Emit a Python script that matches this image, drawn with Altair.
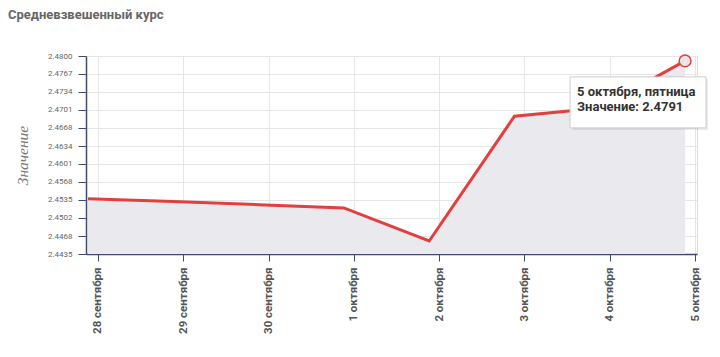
import json
import altair as alt
import pandas as pd

# ---- data ----
dates = ["28 сентября", "29 сентября", "30 сентября", "1 октября",
         "2 октября", "3 октября", "4 октября", "5 октября"]
values = [2.4537, 2.4532, 2.4526, 2.4520, 2.4459, 2.4689, 2.4704, 2.4791]
y_ticks = [2.4435, 2.4468, 2.4502, 2.4535, 2.4568, 2.4601, 2.4634,
           2.4668, 2.4701, 2.4734, 2.4767, 2.4800]
chart_title = "Средневзвешенный курс"
y_title = "Значение"
tooltip_day = "5 октября, пятница"

df = pd.DataFrame({"i": list(range(len(dates))), "date": dates, "value": values})
last = df.tail(1).copy()
last["line1"] = tooltip_day
last["line2"] = f"{y_title}: {values[-1]:.4f}"

label_expr = json.dumps(dates, ensure_ascii=False) + "[datum.value]"

AXIS_COL = "#3f4a6d"
RED = "#e0403e"

x_enc = alt.X(
    "i:Q",
    scale=alt.Scale(domain=[-0.0234, 7.14], nice=False, zero=False),
    axis=alt.Axis(
        values=list(range(len(dates))),
        tickCount=30,
        labelExpr=label_expr,
        labelAngle=-90,
        labelFont="Roboto",
        labelFontWeight="bold",
        labelFontSize=11.5,
        labelColor="#555555",
        labelPadding=6,
        labelOverlap=False,
        tickOffset=10,
        tickSize=7,
        tickColor=AXIS_COL,
        domainColor=AXIS_COL,
        domainWidth=1.5,
        gridColor="#e6e6e6",
        title=None,
    ),
)
y_scale = alt.Scale(domain=[y_ticks[0], y_ticks[-1]], nice=False, zero=False)
y_enc = alt.Y(
    "value:Q",
    scale=y_scale,
    axis=alt.Axis(
        values=y_ticks,
        tickCount=30,
        format=".4f",
        labelFont="Roboto",
        labelFontSize=8,
        labelColor="#666666",
        labelPadding=6,
        labelOverlap=False,
        labelFlush=False,
        tickSize=8,
        tickColor=AXIS_COL,
        domainColor=AXIS_COL,
        domainWidth=1.5,
        gridColor="#e6e6e6",
        title=y_title,
        titleFont="Liberation Serif",
        titleFontStyle="italic",
        titleFontWeight="normal",
        titleFontSize=15.5,
        titleColor="#777777",
        titlePadding=17,
    ),
)

base = alt.Chart(df)
area = base.mark_area(color="#e9e9ee").encode(
    x=x_enc, y=y_enc, y2=alt.datum(y_ticks[0])
)
line = base.mark_line(color=RED, strokeWidth=3).encode(x="i:Q", y="value:Q")

lb = alt.Chart(last)
point = lb.mark_point(filled=True, size=140, fill="#e6e6ea", stroke=RED,
                      strokeWidth=1.5, opacity=1).encode(x="i:Q", y="value:Q")
shadow = lb.mark_rect(fill="#000000", opacity=0.08,
                      xOffset=-113, x2Offset=23, yOffset=18, y2Offset=69).encode(
    x="i:Q", x2="i:Q", y="value:Q", y2="value:Q")
box = lb.mark_rect(fill="white", stroke="#cccccc", strokeWidth=1,
                   xOffset=-115, x2Offset=21, yOffset=16, y2Offset=67).encode(
    x="i:Q", x2="i:Q", y="value:Q", y2="value:Q")
t1 = lb.mark_text(align="left", baseline="middle", dx=-108, dy=31,
                  font="Roboto", fontSize=13, fontWeight="bold",
                  color="#333333").encode(x="i:Q", y="value:Q", text="line1:N")
t2 = lb.mark_text(align="left", baseline="middle", dx=-108, dy=46,
                  font="Roboto", fontSize=13, fontWeight="bold",
                  color="#333333").encode(x="i:Q", y="value:Q", text="line2:N")

chart = alt.layer(area, line, point, shadow, box, t1, t2).properties(
    width=611,
    height=198,
    autosize=alt.AutoSizeParams(type="none"),
    padding={"left": 86, "top": 56, "right": 23, "bottom": 103},
    title=alt.TitleParams(
        text=chart_title, anchor="start", frame="group", dx=-78,
        font="Roboto", fontSize=13, fontWeight="bold", color="#666666",
        offset=30,
    ),
).configure_view(stroke=None).configure(background="white")

chart.save("out.html", embed_options={"renderer": "svg", "actions": False})
